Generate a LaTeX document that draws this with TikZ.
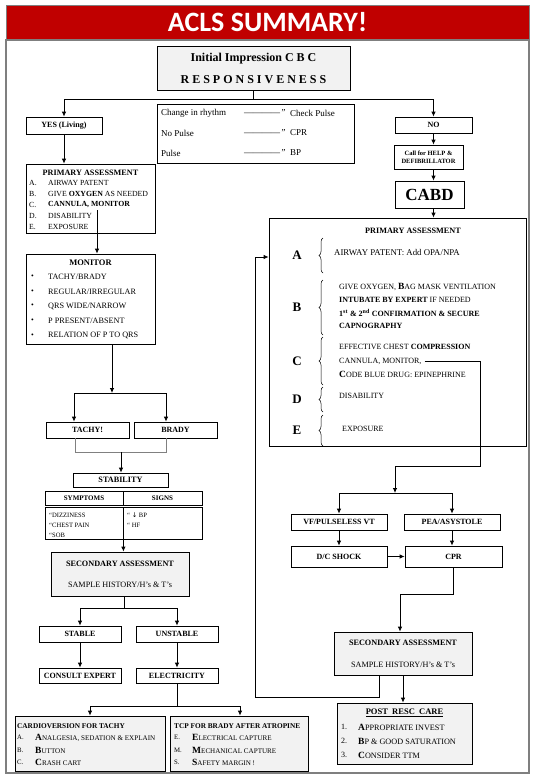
\documentclass[tikz,border=0pt]{standalone}
\usepackage{fontspec}
\setmainfont{Liberation Serif}
\newfontfamily\titlefont{Carlito}
\newfontfamily\dvsans{DejaVu Sans}
\usepackage{tikz}
\usetikzlibrary{arrows.meta, positioning, calc, decorations.pathreplacing}
\definecolor{aclsred}  {HTML}{C00000}
\definecolor{boxgray}  {HTML}{F2F2F2}
\definecolor{framegray}{HTML}{7F7F7F}
\newcommand{\bigfirst}[2]{{\fontsize{9.5}{9.5}\selectfont\bfseries #1}#2}

\begin{document}
\begin{tikzpicture}[
    x=1pt, y=-1pt,
    box/.style={draw, line width=0.8pt, fill=white, inner sep=0pt, align=center,
                font=\fontsize{8}{9}\selectfont\bfseries},
    graybox/.style={box, fill=boxgray},
    txt/.style={inner sep=0pt, anchor=west, font=\fontsize{7.8}{8}\selectfont},
    ptxt/.style={txt, font=\fontsize{8}{9}\selectfont},
    head/.style={inner sep=0pt, font=\fontsize{8.2}{9}\selectfont\bfseries},
    link/.style={line width=0.8pt},
    arr/.style={-{Latex[length=5pt, width=4.5pt]}, line width=0.8pt},
    brace/.style={decorate, decoration={brace, amplitude=4pt}, line width=0.5pt},
  ]
    \useasboundingbox (0,0) rectangle (533,777);

    \node[fill=aclsred, draw=framegray, minimum width=523pt, minimum height=35pt, inner sep=0pt] (title)
      at (267.5,22.5) {\titlefont\fontsize{28}{28}\selectfont\bfseries\color{white}ACLS SUMMARY!};
    \draw[framegray, line width=1.5pt] (6,40) rectangle (529,773);

    \node[graybox, minimum width=193pt, minimum height=44pt, font=\fontsize{12}{22}\selectfont\bfseries] (init)
      at (253.5,68) {Initial Impression C B C\\R E S P O N S I V E N E S S};

    \node[box, minimum width=197pt, minimum height=59pt] (rules) at (255.5,133.5) {};
    \foreach \l/\r [count=\i] in {Change in rhythm/Check Pulse, No Pulse/CPR, Pulse/BP} {
      \node[txt, font=\fontsize{9}{9}\selectfont] (rl\i) at (161,93+20*\i) {\l};
      \node[txt, font=\fontsize{9}{9}\selectfont] (rd\i) at (244,93+20*\i) {————\,”};
      \node[txt, font=\fontsize{9}{9}\selectfont] (rr\i) at (290,93+20*\i) {\r};
    }

    \node[box, minimum width=76pt, minimum height=17pt] (yes) at (64,125.5) {YES (Living)};
    \node[box, minimum width=77pt, minimum height=16pt] (no) at (433.5,125) {NO};
    \node[box, minimum width=69pt, minimum height=24pt, font=\fontsize{6.5}{7.5}\selectfont\bfseries] (call)
      at (428.5,157) {Call for HELP \&\\DEFIBRILLATOR};
    \node[box, minimum width=69pt, minimum height=27pt, font=\fontsize{17}{17}\selectfont\bfseries] (cabd)
      at (429.5,194.5) {CABD};

    \coordinate (brl) at (64,99);
    \coordinate (brr) at (433.5,99);
    \draw[link] (init.south) -- (init.south |- brl);
    \draw[link] (brl) -- (brr);
    \draw[arr] (brl) -- (yes.north -| brl);
    \draw[arr] (brr) -- (no.north -| brr);
    \draw[arr] (no.south) -- (no.south |- call.north);
    \draw[arr] (no.south |- call.south) -- (no.south |- cabd.north);

    % right column
    \node[box, minimum width=257pt, minimum height=228pt] (pa2) at (397.5,332) {};
    \draw[arr] (no.south |- cabd.south) -- (no.south |- pa2.north);
    \node[head] (pa2t) at (413,231) {PRIMARY ASSESSMENT};
    \foreach \k/\ya/\yb in {A/238/273, B/280/335, C/337/385, D/387/412, E/415/446} {
      \node[inner sep=0pt, font=\fontsize{13}{13}\selectfont\bfseries] (let\k) at (297,{(\ya+\yb)/2}) {\k};
      \draw[brace] (323,\yb) -- (323,\ya);
    }
    \node[ptxt, font=\fontsize{8.8}{9}\selectfont] (pa2a) at (334,253) {AIRWAY PATENT: Add OPA/NPA};
    \node[ptxt] (pa2b1) at (339,287) {GIVE OXYGEN, \bigfirst{B}{AG MASK VENTILATION}};
    \node[ptxt] (pa2b2) at (339,300) {\textbf{INTUBATE BY EXPERT} IF NEEDED};
    \node[ptxt] (pa2b3) at (339,313) {\textbf{1\textsuperscript{st} \& 2\textsuperscript{nd} CONFIRMATION \& SECURE}};
    \node[ptxt] (pa2b4) at (339,326) {\textbf{CAPNOGRAPHY}};
    \node[ptxt] (pa2c1) at (339,347) {EFFECTIVE CHEST \textbf{COMPRESSION}};
    \node[ptxt] (cmon) at (339,361) {CANNULA, MONITOR,};
    \node[ptxt] (pa2c3) at (339,374) {\bigfirst{C}{ODE BLUE DRUG: EPINEPHRINE}};
    \node[ptxt] (pa2d) at (339,396) {DISABILITY};
    \node[ptxt] (pa2e) at (342,429) {EXPOSURE};

    \node[box, minimum width=96pt, minimum height=16pt] (vf) at (339,522) {VF/PULSELESS VT};
    \node[box, minimum width=96pt, minimum height=16pt] (pea) at (452,522) {PEA/ASYSTOLE};
    \node[box, minimum width=96pt, minimum height=21pt] (dc) at (339,556.5) {D/C SHOCK};
    \node[box, minimum width=97pt, minimum height=21pt] (cpr) at (453.5,556.5) {CPR};

    \coordinate (cturn) at (480,466);
    \coordinate (vsplit) at (395,493);
    \draw[arr] ([xshift=3pt]cmon.east) -| (cturn) -| (vsplit);
    \draw[link] (vf.north |- vsplit) -- (pea.north |- vsplit);
    \draw[arr] (vf.north |- vsplit) -- (vf.north);
    \draw[arr] (pea.north |- vsplit) -- (pea.north);
    \draw[arr] (vf) -- (dc);
    \draw[arr] (pea) -- (pea |- cpr.north);
    \draw[arr] (dc) -- (cpr);

    \node[graybox, minimum width=138pt, minimum height=43pt, font=\fontsize{8.2}{22}\selectfont] (sec2)
      at (403,653.5) {\textbf{SECONDARY ASSESSMENT}\\SAMPLE HISTORY/H's \& T's};
    \coordinate (cbend) at (400,594);
    \draw[arr] (cpr.south) |- (cbend) -- (cbend |- sec2.north);

    \coordinate (lp1) at (379,697);
    \coordinate (lp2) at (255,257);
    \draw[arr] (lp1 |- sec2.south) -- (lp1) -| (lp2) -- (lp2 -| pa2.west);

    \node[graybox, minimum width=135pt, minimum height=61pt] (post) at (404.5,733.5) {};
    \draw[arr] (sec2.south) -- (sec2.south |- post.north);
    \node[head, font=\fontsize{8.5}{9}\selectfont\bfseries] (postt) at (404.5,713) {\underline{POST\ \ RESC\ \ CARE}};
    \foreach \n/\f/\r [count=\i] in {1./A/PPROPRIATE INVEST, 2./B/P \& GOOD SATURATION, 3./C/ONSIDER TTM} {
      \node[txt, font=\fontsize{8}{9}\selectfont] (postn\i) at (341,713+14*\i) {\n};
      \node[txt, font=\fontsize{8.2}{9}\selectfont] (posti\i) at (358,713+14*\i) {\bigfirst{\f}{\r}};
    }

    % left column
    \node[box, minimum width=129pt, minimum height=69pt] (pa1) at (90.5,198.5) {};
    \node[head] (pa1t) at (90.5,173) {PRIMARY ASSESSMENT};
    \foreach \l/\t [count=\i] in {A./AIRWAY PATENT, B./GIVE \textbf{OXYGEN} AS NEEDED,
                                  C./{\textbf{CANNULA, MONITOR}}, D./DISABILITY, E./EXPOSURE} {
      \node[txt] (pa1l\i) at (29,172+11*\i) {\l};
      \node[txt] (pa1i\i) at (48,172+11*\i) {\t};
    }
    \draw[arr] (yes.south) -- (yes.south |- pa1.north);

    \node[box, minimum width=129pt, minimum height=90pt] (mon) at (90.5,299) {};
    \node[head, font=\fontsize{8.5}{9}\selectfont\bfseries] (mont) at (90.5,263) {MONITOR};
    \foreach \t [count=\i] in {TACHY/BRADY, REGULAR/IRREGULAR, QRS WIDE/NARROW, P PRESENT/ABSENT, RELATION OF P TO QRS} {
      \node[txt] (monb\i) at (31,262+14.7*\i) {•};
      \node[txt, font=\fontsize{8.2}{9}\selectfont] (moni\i) at (48,262+14.7*\i) {\t};
    }
    \coordinate (mstart) at (97,210);
    \draw[arr] (mstart) -- (mstart |- mon.north);

    \node[box, minimum width=83pt, minimum height=16pt] (tachy) at (87.5,430) {TACHY!};
    \node[box, minimum width=83pt, minimum height=16pt] (brady) at (175.5,430) {BRADY};
    \coordinate (ts) at (112,393);
    \coordinate (tl) at (74,393);
    \coordinate (tr) at (166,393);
    \draw[arr] (ts |- mon.south) -- (ts);
    \draw[link] (tl) -- (tr);
    \draw[arr] (tl) -- (tl |- tachy.north);
    \draw[arr] (tr) -- (tr |- brady.north);

    \node[box, minimum width=95pt, minimum height=14pt, font=\fontsize{8.2}{9}\selectfont\bfseries] (stab)
      at (120.5,480) {STABILITY};
    \coordinate (jl) at (75,452);
    \coordinate (jr) at (166,452);
    \coordinate (jm) at (121,452);
    \draw[link, gray] (jl |- tachy.south) -- (jl) -- (jr) -- (jr |- brady.south);
    \draw[arr] (jm) -- (jm |- stab.north);

    \node[box, minimum width=78pt, minimum height=14pt, font=\fontsize{7}{8}\selectfont\bfseries] (symh)
      at (84,498) {SYMPTOMS};
    \node[box, minimum width=79pt, minimum height=14pt, font=\fontsize{7}{8}\selectfont\bfseries] (sigh)
      at (162.5,498) {SIGNS};
    \node[box, minimum width=78pt, minimum height=32pt] (symb) at (84,523) {};
    \node[box, minimum width=79pt, minimum height=32pt] (sigb) at (162.5,523) {};
    \foreach \t [count=\i] in {DIZZINESS, CHEST PAIN, SOB} {
      \node[txt, font=\fontsize{6.6}{7}\selectfont] (sym\i) at (49,505+10*\i) {“\t};
    }
    \node[txt, font=\fontsize{6.6}{7}\selectfont] (sig1) at (127,515) {“ {\dvsans ↓} BP};
    \node[txt, font=\fontsize{6.6}{7}\selectfont] (sig2) at (127,525) {“ HF};

    \node[graybox, minimum width=138pt, minimum height=44pt, font=\fontsize{8.2}{21}\selectfont] (sec1)
      at (120,574) {\textbf{SECONDARY ASSESSMENT}\\SAMPLE HISTORY/H's \& T's};
    \draw[arr] (symb.south east) -- (symb.south east |- sec1.north);

    \node[box, minimum width=82pt, minimum height=16pt] (stable) at (80,634) {STABLE};
    \node[box, minimum width=82pt, minimum height=16pt] (unstable) at (177,634) {UNSTABLE};
    \node[box, minimum width=82pt, minimum height=15pt] (consult) at (80,675.5) {CONSULT EXPERT};
    \node[box, minimum width=82pt, minimum height=15pt] (elec) at (177,675.5) {ELECTRICITY};
    \coordinate (sm) at (124,608);
    \coordinate (sl) at (80,608);
    \coordinate (sr) at (177,608);
    \draw[link] (sm |- sec1.south) -- (sm);
    \draw[link] (sl) -- (sr);
    \draw[arr] (sl) -- (sl |- stable.north);
    \draw[arr] (sr) -- (sr |- unstable.north);
    \draw[arr] (stable) -- (consult);
    \draw[arr] (unstable) -- (elec);

    \node[graybox, minimum width=150pt, minimum height=55pt] (cardio) at (90,743.5) {};
    \node[graybox, minimum width=138pt, minimum height=55pt] (tcp) at (239,743.5) {};
    \coordinate (el) at (90,706);
    \coordinate (er) at (240,706);
    \draw[link] (elec.south) -- (elec.south |- el);
    \draw[link] (el) -- (er);
    \draw[arr] (el) -- (el |- cardio.north);
    \draw[arr] (er) -- (er |- tcp.north);

    \node[txt, font=\fontsize{7.3}{8}\selectfont\bfseries] (cardt) at (17,726) {CARDIOVERSION FOR TACHY};
    \foreach \l/\f/\r [count=\i] in {A./A/{NALGESIA, SEDATION \& EXPLAIN}, B./B/UTTON, C./C/RASH CART} {
      \node[txt, font=\fontsize{6.8}{7}\selectfont] (cardl\i) at (17,725+12.5*\i) {\l};
      \node[txt, font=\fontsize{7.1}{8}\selectfont] (cardi\i) at (35,725+12.5*\i) {\bigfirst{\f}{\r}};
    }
    \node[txt, font=\fontsize{7.3}{8}\selectfont\bfseries] (tcpt) at (174,726) {TCP FOR BRADY AFTER ATROPINE};
    \foreach \l/\f/\r [count=\i] in {E./E/LECTRICAL CAPTURE, M./M/ECHANICAL CAPTURE, S./S/AFETY MARGIN !} {
      \node[txt, font=\fontsize{6.8}{7}\selectfont] (tcpl\i) at (174,725+12.5*\i) {\l};
      \node[txt, font=\fontsize{7.1}{8}\selectfont] (tcpi\i) at (192,725+12.5*\i) {\bigfirst{\f}{\r}};
    }
  \end{tikzpicture}
\end{document}
